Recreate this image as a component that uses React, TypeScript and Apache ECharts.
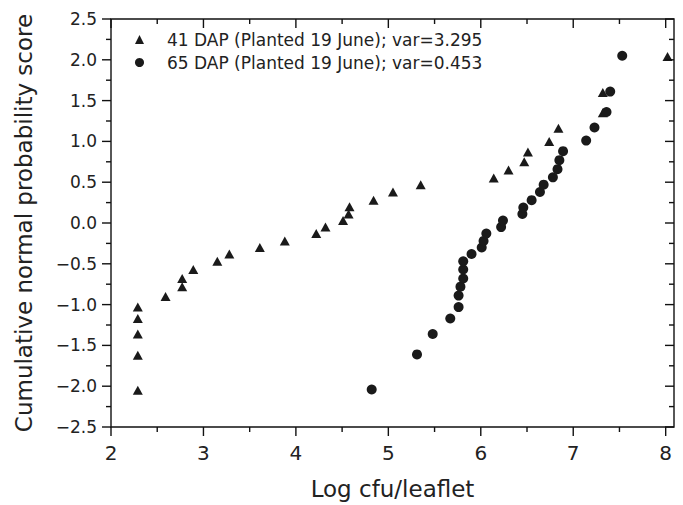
import React, { useEffect, useRef } from "react";
import * as echarts from "echarts";

const seriesNames = [
  "41 DAP (Planted 19 June); var=3.295",
  "65 DAP (Planted 19 June); var=0.453",
];

const tri41X = [2.29, 2.29, 2.29, 2.29, 2.29, 2.59, 2.77, 2.77, 2.89, 3.15, 3.28, 3.61, 3.88, 4.22, 4.32, 4.51, 4.57, 4.58, 4.84, 5.05, 5.35, 6.14, 6.3, 6.47, 6.51, 6.74, 6.84, 7.32, 7.32, 8.02];
const tri41Y = [-2.05, -1.62, -1.36, -1.17, -1.03, -0.9, -0.78, -0.68, -0.57, -0.47, -0.38, -0.3, -0.22, -0.13, -0.05, 0.03, 0.11, 0.2, 0.28, 0.38, 0.47, 0.55, 0.65, 0.75, 0.87, 1.0, 1.16, 1.35, 1.6, 2.04];

const circ65X = [4.82, 5.31, 5.48, 5.67, 5.76, 5.76, 5.78, 5.81, 5.81, 5.81, 5.9, 6.01, 6.03, 6.06, 6.22, 6.24, 6.45, 6.46, 6.55, 6.64, 6.68, 6.78, 6.83, 6.85, 6.89, 7.14, 7.23, 7.36, 7.4, 7.53];
const circ65Y = [-2.04, -1.61, -1.36, -1.17, -1.03, -0.89, -0.78, -0.68, -0.57, -0.47, -0.38, -0.3, -0.22, -0.13, -0.05, 0.03, 0.11, 0.19, 0.28, 0.38, 0.47, 0.56, 0.66, 0.77, 0.88, 1.01, 1.17, 1.36, 1.61, 2.05];

const xMajorTicks = [2, 3, 4, 5, 6, 7, 8];
const xMinorTicks = [2.5, 3.5, 4.5, 5.5, 6.5, 7.5];
const yMajorTicks = [-2.5, -2, -1.5, -1, -0.5, 0, 0.5, 1, 1.5, 2, 2.5];
const yMinorTicks = [-2.25, -1.75, -1.25, -0.75, -0.25, 0.25, 0.75, 1.25, 1.75, 2.25];

const X_MIN = 2;
const X_MAX = 8.09;
const Y_MIN = -2.5;
const Y_MAX = 2.5;

const FONT = "DejaVu Sans";
const INK = "#1a1a1a";
const AXIS = "#111";

export default function App() {
  const ref = useRef<HTMLDivElement>(null);
  useEffect(() => {
    if (!ref.current) return;
    const chart = echarts.init(ref.current, undefined, { renderer: "svg" });

    // tick data: [axis (0 = x, 1 = y), value, major (1) / minor (0)]
    const tickData: number[][] = [
      ...xMajorTicks.map((v) => [0, v, 1]),
      ...xMinorTicks.map((v) => [0, v, 0]),
      ...yMajorTicks.map((v) => [1, v, 1]),
      ...yMinorTicks.map((v) => [1, v, 0]),
    ];

    const seg = (x1: number, y1: number, x2: number, y2: number) => ({
      type: "line",
      shape: { x1, y1, x2, y2 },
      style: { stroke: AXIS, lineWidth: 1.4 },
    });

    chart.setOption({
      animation: false,
      backgroundColor: "#fff",
      grid: {
        left: 111, right: 9, top: 19, bottom: 73,
        show: true, borderColor: AXIS, borderWidth: 1.4, backgroundColor: "transparent",
      },
      legend: {
        orient: "vertical",
        left: 130,
        top: 26,
        itemWidth: 9,
        itemHeight: 9,
        itemGap: 6,
        data: [
          { name: seriesNames[0], icon: "triangle" },
          { name: seriesNames[1], icon: "circle" },
        ],
        textStyle: { fontSize: 17, color: "#222", fontFamily: FONT, padding: [0, 0, 0, 18] },
      },
      xAxis: {
        type: "value", min: X_MIN, max: X_MAX,
        name: "Log cfu/leaflet", nameLocation: "middle", nameGap: 50,
        nameTextStyle: { fontSize: 23, color: "#222", fontFamily: FONT },
        axisLine: { show: false, onZero: false },
        axisTick: { show: false },
        axisLabel: {
          margin: 16, fontSize: 20, color: "#222", fontFamily: FONT,
          formatter: (v: number) => (Math.abs(v - Math.round(v)) < 1e-6 ? String(Math.round(v)) : ""),
        },
        splitLine: { show: false },
      },
      yAxis: {
        type: "value", min: Y_MIN, max: Y_MAX, interval: 0.5,
        name: "Cumulative normal probability score", nameLocation: "middle", nameGap: 76,
        nameTextStyle: { fontSize: 23, color: "#222", fontFamily: FONT },
        axisLine: { show: false, onZero: false },
        axisTick: { show: false },
        axisLabel: {
          margin: 14, fontSize: 17, color: "#222", fontFamily: FONT,
          formatter: (v: number) => (v < 0 ? "\u2212" : "") + Math.abs(v).toFixed(1),
        },
        splitLine: { show: false },
      },
      series: [
        {
          name: seriesNames[0],
          type: "scatter",
          symbol: "triangle",
          symbolSize: [10, 9],
          itemStyle: { color: INK, opacity: 1 },
          clip: false,
          data: tri41X.map((x, i) => [x, tri41Y[i]]),
        },
        {
          name: seriesNames[1],
          type: "scatter",
          symbol: "circle",
          symbolSize: 10,
          itemStyle: { color: INK, opacity: 1 },
          clip: false,
          data: circ65X.map((x, i) => [x, circ65Y[i]]),
        },
        {
          type: "custom",
          silent: true,
          clip: false,
          z: 5,
          encode: { x: -1, y: -1 },
          data: tickData,
          renderItem: (_params: any, api: any) => {
            const axis = api.value(0);
            const v = api.value(1);
            const len = api.value(2) === 1 ? 9 : 5;
            if (axis === 0) {
              const b = api.coord([v, Y_MIN]);
              const t = api.coord([v, Y_MAX]);
              return {
                type: "group",
                children: [seg(b[0], b[1], b[0], b[1] + len), seg(t[0], t[1], t[0], t[1] + len)],
              };
            }
            const l = api.coord([X_MIN, v]);
            const r = api.coord([X_MAX, v]);
            return {
              type: "group",
              children: [seg(l[0] - len, l[1], l[0], l[1]), seg(r[0], r[1], r[0] - len, r[1])],
            };
          },
        },
      ],
    });
    return () => chart.dispose();
  }, []);
  return (
    <div
      ref={ref}
      style={{ position: "fixed", left: 0, top: 0, width: 683, height: 505, background: "#fff" }}
    />
  );
}
